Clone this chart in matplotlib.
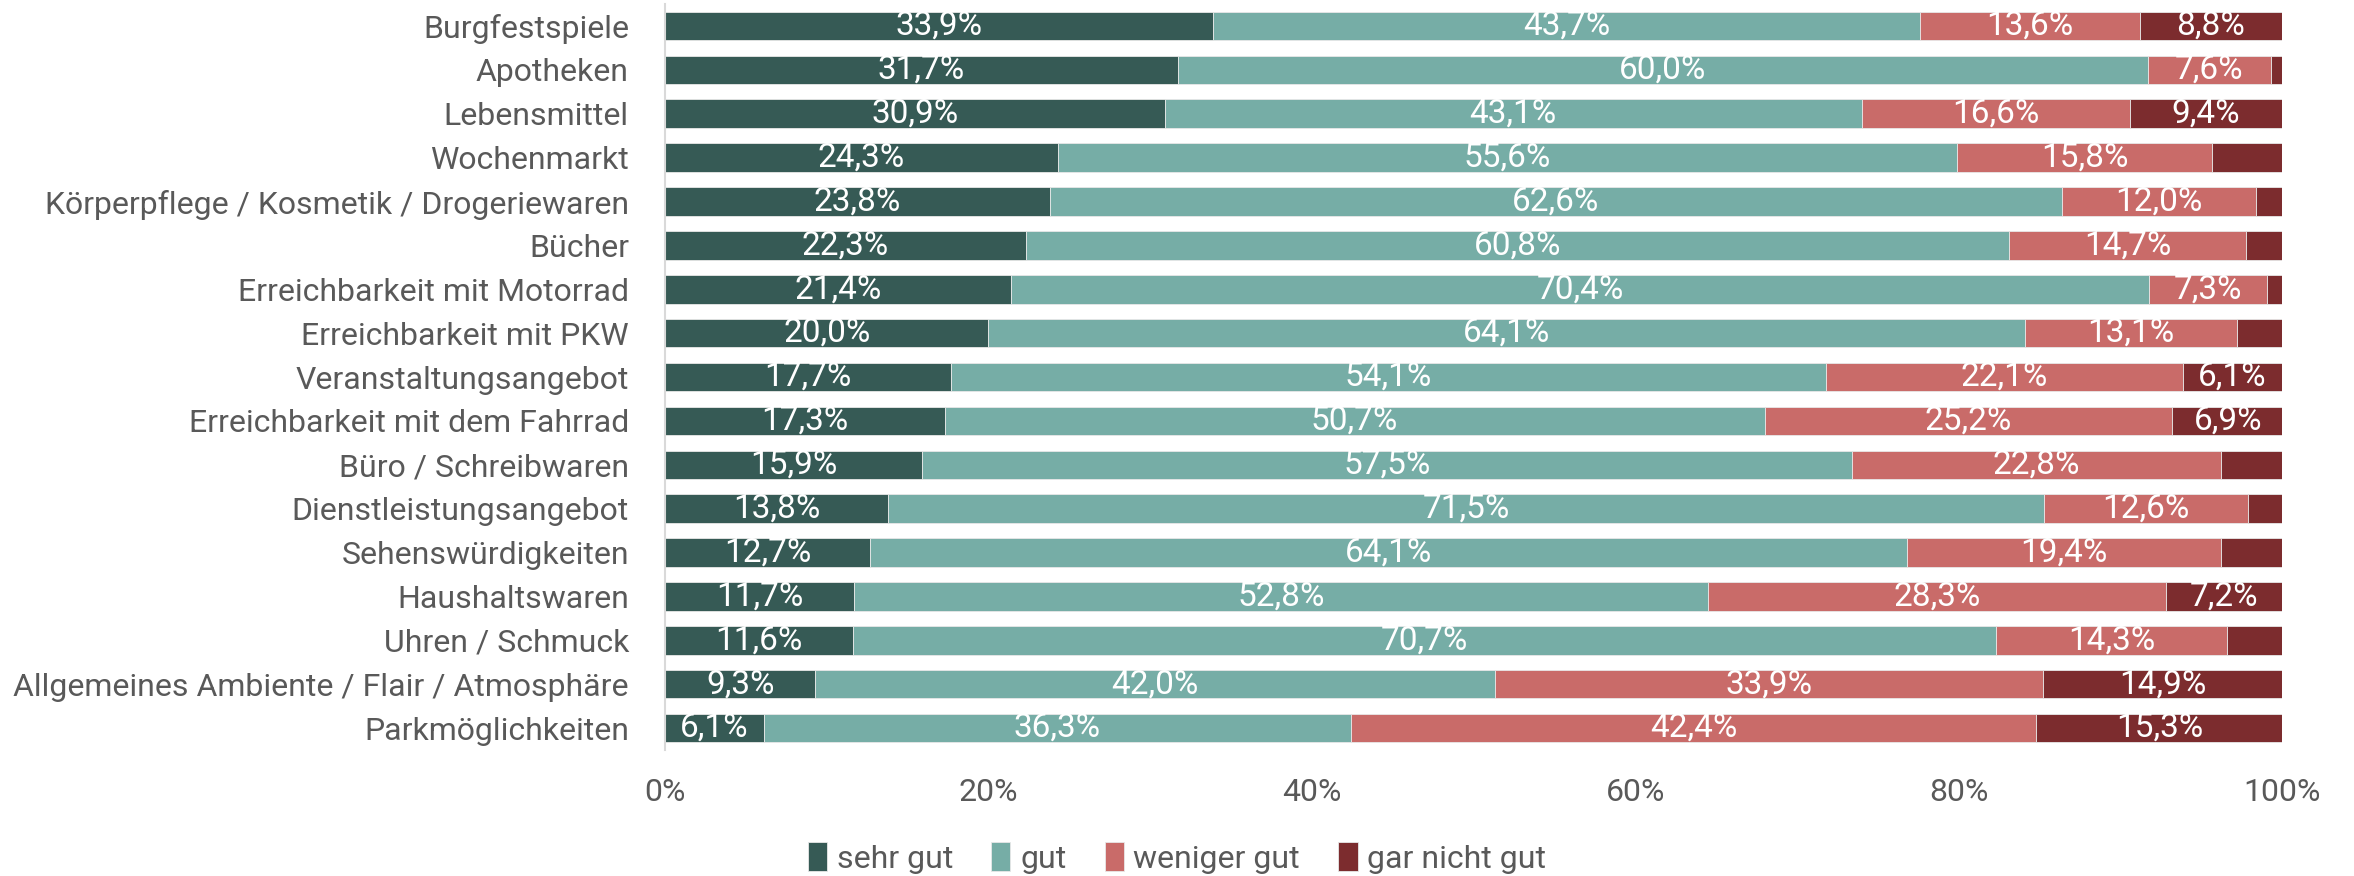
import matplotlib.pyplot as plt
from matplotlib import font_manager

names = {f.name for f in font_manager.fontManager.ttflist}
font = 'Liberation Sans Narrow' if 'Liberation Sans Narrow' in names else 'Roboto'
plt.rcParams['font.family'] = [font, 'DejaVu Sans']

categories = ['Burgfestspiele', 'Apotheken', 'Lebensmittel', 'Wochenmarkt',
              'Körperpflege / Kosmetik / Drogeriewaren', 'Bücher',
              'Erreichbarkeit mit Motorrad', 'Erreichbarkeit mit PKW',
              'Veranstaltungsangebot', 'Erreichbarkeit mit dem Fahrrad',
              'Büro / Schreibwaren', 'Dienstleistungsangebot',
              'Sehenswürdigkeiten', 'Haushaltswaren', 'Uhren / Schmuck',
              'Allgemeines Ambiente / Flair / Atmosphäre', 'Parkmöglichkeiten']
sehr_gut = [33.9, 31.7, 30.9, 24.3, 23.8, 22.3, 21.4, 20.0, 17.7, 17.3, 15.9, 13.8, 12.7, 11.7, 11.6, 9.3, 6.1]
gut = [43.7, 60.0, 43.1, 55.6, 62.6, 60.8, 70.4, 64.1, 54.1, 50.7, 57.5, 71.5, 64.1, 52.8, 70.7, 42.0, 36.3]
weniger_gut = [13.6, 7.6, 16.6, 15.8, 12.0, 14.7, 7.3, 13.1, 22.1, 25.2, 22.8, 12.6, 19.4, 28.3, 14.3, 33.9, 42.4]
gar_nicht_gut = [8.8, 0.7, 9.4, 4.3, 1.6, 2.2, 0.9, 2.8, 6.1, 6.9, 3.8, 2.1, 3.8, 7.2, 3.4, 14.9, 15.3]

series = [('sehr gut', sehr_gut, '#365a55'),
          ('gut', gut, '#76ada6'),
          ('weniger gut', weniger_gut, '#c96b69'),
          ('gar nicht gut', gar_nicht_gut, '#7c2c2e')]

fig = plt.figure(figsize=(23.54, 8.76), dpi=100)
ax = fig.add_axes([0.2825, 0.1438, 0.9694 - 0.2825, 0.9954 - 0.1438])

y = list(range(len(categories)))
left = [0.0] * len(categories)
for name, vals, color in series:
    ax.barh(y, vals, left=left, height=0.65, color=color, label=name,
            edgecolor='#e8e8e8', linewidth=0.6)
    for i, v in enumerate(vals):
        if v >= 5:
            ax.text(left[i] + v / 2, i, f'{v:.1f}%'.replace('.', ','),
                    ha='center', va='center', color='white', fontsize=24)
    left = [l + v for l, v in zip(left, vals)]

ax.set_xlim(0, 100)
ax.set_ylim(len(categories) - 0.5, -0.5)
ax.set_yticks(y)
ax.set_yticklabels(categories, fontsize=23, color='#595959')
ax.set_xticks([0, 20, 40, 60, 80, 100])
ax.set_xticklabels(['0%', '20%', '40%', '60%', '80%', '100%'], fontsize=23, color='#595959')
ax.tick_params(axis='both', length=0)
ax.tick_params(axis='x', pad=20)
ax.tick_params(axis='y', pad=26)
for s in ['top', 'right', 'bottom']:
    ax.spines[s].set_visible(False)
ax.spines['left'].set_color('#d9d9d9')
ax.spines['left'].set_linewidth(1.5)

fig.legend(loc='lower center', bbox_to_anchor=(0.5, -0.03), ncol=4, frameon=False,
           fontsize=23, labelcolor='#595959', handlelength=0.6, handleheight=1.0,
           handletextpad=0.3, columnspacing=1.2)

fig.savefig('out.png', dpi=100)
